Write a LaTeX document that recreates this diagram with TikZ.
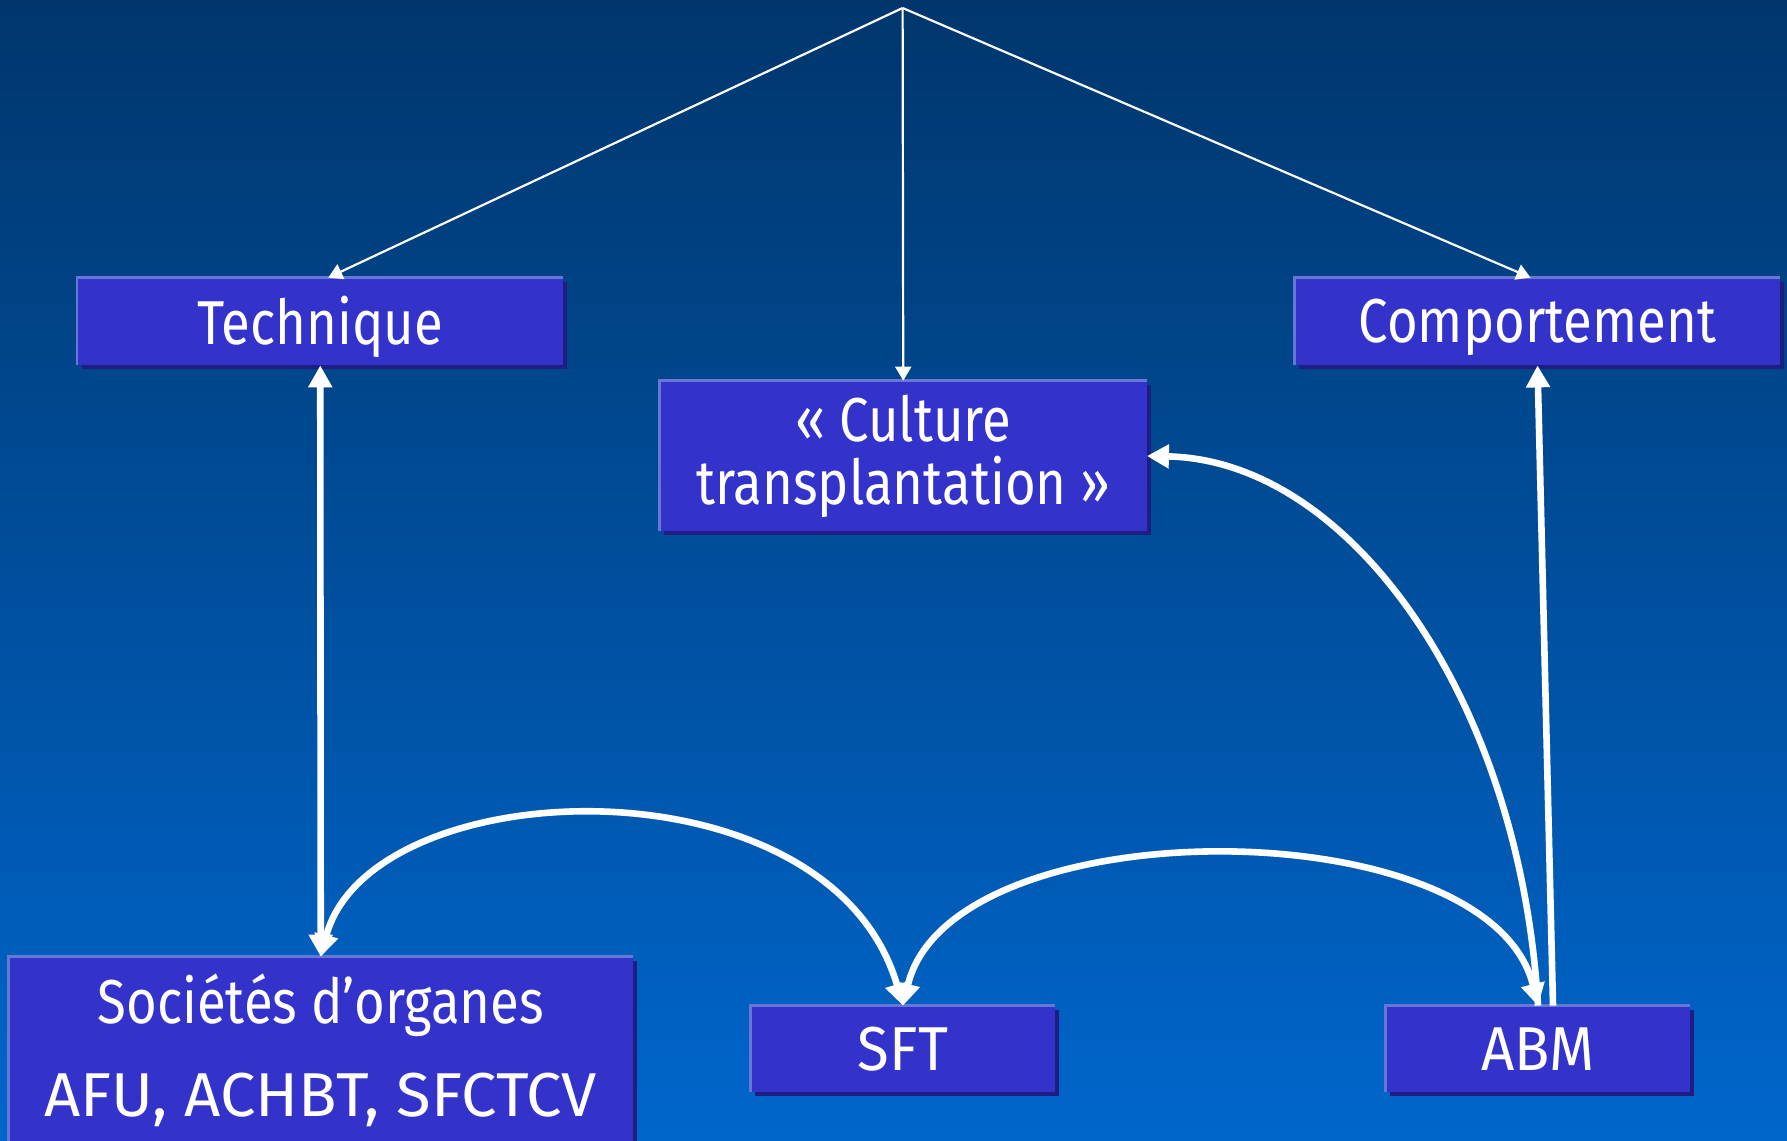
\documentclass[tikz,border=0pt]{standalone}
\usepackage{fontspec}
\usepackage{graphicx}
\setmainfont{Fira Sans}[FakeStretch=0.85]
\usetikzlibrary{arrows.meta,calc}
\definecolor{bgtop}{RGB}{0,54,108}
\definecolor{bgbot}{RGB}{0,102,204}
\definecolor{boxfill}{RGB}{51,51,204}
\definecolor{boxlight}{RGB}{102,119,214}
\definecolor{boxdark}{RGB}{30,30,130}
\begin{document}
\begin{tikzpicture}[x=0.5pt,y=-0.5pt,
  box/.style={fill=boxfill, text=white, inner sep=0pt, align=center,
    font=\fontsize{31}{31.5}\selectfont,
    preaction={fill=boxdark, transform canvas={shift={(2pt,-2pt)}}}},
  thinarrow/.style={draw=white, line width=1.1pt, -{Triangle[length=7pt,width=8pt]}},
  bigboth/.style={draw=white, line width=3.3pt, {Triangle[length=11pt,width=11.5pt]}-{Triangle[length=11pt,width=11.5pt]}},
  bigend/.style={draw=white, line width=3.3pt, -{Triangle[length=11pt,width=11.5pt]}},
  edge/.style={draw=boxlight, line width=1.2pt}]
\useasboundingbox (0,0) rectangle (1787,1140);
\fill[top color=bgtop, bottom color=bgbot] (0,0) rectangle (1787,1140);

\node[box, minimum width=242.75pt, minimum height=43.5pt, text depth=1pt] (tech) at (320.25,321.5) {Technique};
\node[box, minimum width=242.5pt, minimum height=43.5pt, text depth=1pt] (comp) at (1537.5,321.5) {Comportement};
\node[box, minimum width=243.25pt, minimum height=75pt] (cult) at (903.25,456) {« Culture\\transplantation »};
\node[box, minimum width=311.75pt, minimum height=93pt] (soc) at (320.75,1050) {Sociétés d'organes\\[15pt]\scalebox{1.2}[1]{AFU, ACHBT, SFCTCV}};
\node[box, minimum width=152pt, minimum height=43pt] (sft) at (903,1049) {\scalebox{1.1}[1]{SFT}};
\node[box, minimum width=152pt, minimum height=43pt] (abm) at (1538,1049) {\scalebox{1.1}[1]{ABM}};
\foreach \n in {tech,comp,cult,soc,sft,abm}
  \draw[edge] (\n.south west) -- (\n.north west) -- (\n.north east);

\coordinate (apex) at (902.6,8);
\draw[thinarrow] (apex) -- ([xshift=4pt]tech.north);
\draw[thinarrow] (apex) -- (cult.north);
\draw[thinarrow] (apex) -- ([xshift=-3.5pt]comp.north);

\draw[bigboth] (tech.south) -- (soc.north);
\draw[bigboth] (soc.north) .. controls +(49,-187) and +(-73,-252) .. (sft.north);
\draw[bigboth] (sft.north) .. controls +(47,-199) and +(-48.6,-199) .. (abm.north);
\draw[bigend] (abm.north) .. controls +(-18,-306) and +(203.5,4) .. (cult.east);
\draw[bigend] ([xshift=7.5pt]abm.north) -- (comp.south);
\end{tikzpicture}
\end{document}
